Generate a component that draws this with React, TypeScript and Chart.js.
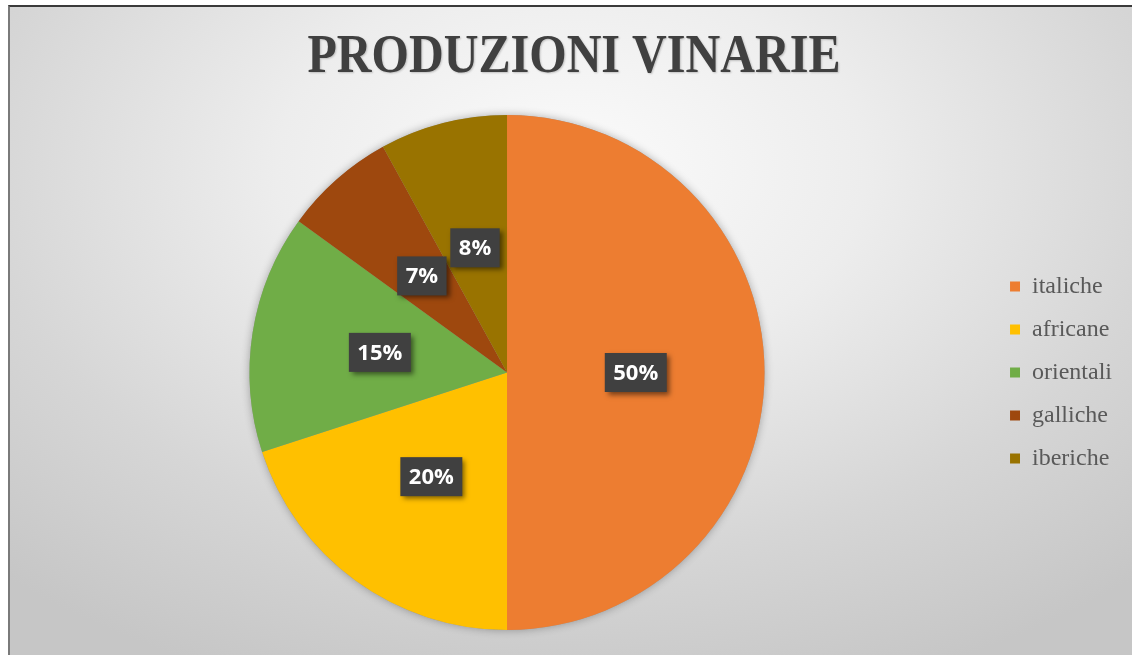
import React, { useEffect, useRef } from "react";
import { Chart, registerables } from "chart.js";

Chart.register(...registerables);

const categories = ["italiche", "africane", "orientali", "galliche", "iberiche"];
const values = [50, 20, 15, 7, 8];
const sliceColors = ["#ED7D31", "#FFC000", "#70AD47", "#9E480E", "#997300"];
const titleText = "PRODUZIONI VINARIE";

const titlePlugin = {
  id: "xlTitle",
  afterDraw(chart: any) {
    const ctx = chart.ctx;
    ctx.save();
    ctx.font = "bold 55px 'Liberation Serif', 'Times New Roman', serif";
    const w = ctx.measureText(titleText).width;
    const sx = 533 / w;
    ctx.translate(564, 65);
    ctx.scale(sx, 1);
    ctx.fillStyle = "#404040";
    ctx.textAlign = "center";
    ctx.textBaseline = "alphabetic";
    ctx.shadowColor = "rgba(0,0,0,0.2)";
    ctx.shadowBlur = 2;
    ctx.shadowOffsetX = 1;
    ctx.shadowOffsetY = 1;
    ctx.fillText(titleText, 0, 0);
    ctx.restore();
  },
};

const pieDecor = {
  id: "pieDecor",
  beforeDatasetsDraw(chart: any) {
    const meta = chart.getDatasetMeta(0);
    const arc: any = meta.data[0];
    if (!arc) return;
    const ctx = chart.ctx;
    ctx.save();
    ctx.beginPath();
    ctx.arc(arc.x, arc.y, arc.outerRadius, 0, Math.PI * 2);
    ctx.fillStyle = "#999999";
    ctx.shadowColor = "rgba(0,0,0,0.3)";
    ctx.shadowBlur = 8;
    ctx.fill();
    ctx.restore();
  },
  afterDatasetsDraw(chart: any) {
    const meta = chart.getDatasetMeta(0);
    const ctx = chart.ctx;
    const total = values.reduce((a, b) => a + b, 0);
    meta.data.forEach((arc: any, i: number) => {
      const pos = arc.tooltipPosition(false);
      const txt = Math.round((values[i] / total) * 100) + "%";
      ctx.save();
      ctx.font = "bold 22px 'Open Sans', 'Noto Sans', sans-serif";
      const tw = ctx.measureText(txt).width;
      const bw = tw + 17;
      const bh = 39;
      ctx.shadowColor = "rgba(0,0,0,0.5)";
      ctx.shadowBlur = 5;
      ctx.shadowOffsetX = 3;
      ctx.shadowOffsetY = 3;
      ctx.fillStyle = "#404040";
      ctx.fillRect(pos.x - bw / 2, pos.y - bh / 2, bw, bh);
      ctx.shadowColor = "transparent";
      ctx.fillStyle = "#ffffff";
      ctx.textAlign = "center";
      ctx.textBaseline = "middle";
      ctx.fillText(txt, pos.x, pos.y + 1);
      ctx.restore();
    });
  },
};

export default function App() {
  const ref = useRef<HTMLCanvasElement | null>(null);

  useEffect(() => {
    if (!ref.current) return;
    const chart = new Chart(ref.current, {
      type: "pie",
      data: {
        labels: categories,
        datasets: [
          {
            data: values,
            backgroundColor: sliceColors,
            borderWidth: 0,
          },
        ],
      },
      options: {
        animation: false,
        responsive: true,
        maintainAspectRatio: false,
        events: [],
        layout: { padding: { top: 108, bottom: 25, left: 13, right: 10 } },
        plugins: {
          tooltip: { enabled: false },
          title: { display: false },
          legend: {
            display: true,
            position: "right",
            labels: {
              boxWidth: 10,
              boxHeight: 10,
              padding: 19,
              color: "#595959",
              font: { family: "'Liberation Serif', 'Times New Roman', serif", size: 24 },
            },
          },
        },
      },
      plugins: [pieDecor, titlePlugin],
    });
    return () => chart.destroy();
  }, []);

  return (
    <div
      style={{
        position: "fixed",
        left: 8,
        top: 5,
        right: 0,
        bottom: 0,
        borderTop: "2px solid #3a3a3a",
        borderLeft: "2px solid #7a7a7a",
        background:
          "radial-gradient(ellipse 75% 85% at 50% 25%, #fbfbfb 0%, #ededed 35%, #d6d6d6 70%, #c6c6c6 100%)",
        overflow: "hidden",
      }}
    >
      <div style={{ position: "relative", width: 1122, height: 648 }}>
        <canvas ref={ref} />
      </div>
    </div>
  );
}
